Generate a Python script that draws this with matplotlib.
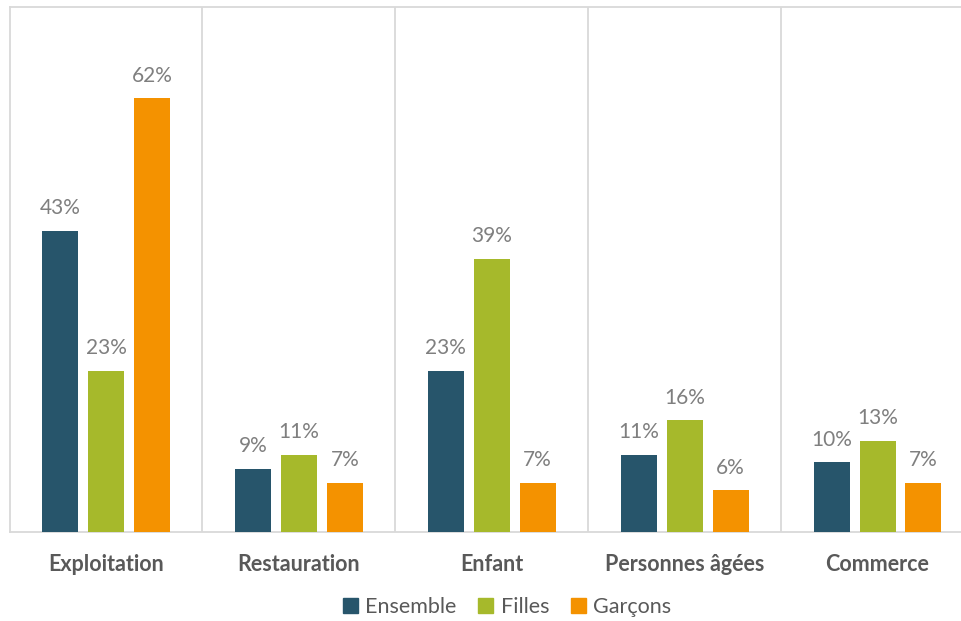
import numpy as np
import matplotlib.pyplot as plt
from matplotlib.patches import Patch

categories = ['Exploitation', 'Restauration', 'Enfant', 'Personnes âgées', 'Commerce']
series_names = ['Ensemble', 'Filles', 'Garçons']
ensemble = [43, 9, 23, 11, 10]
filles = [23, 11, 39, 16, 13]
garcons = [62, 7, 7, 6, 7]

colors = ['#27556b', '#a6b92b', '#f49200']
grid_color = '#d9d9d9'
text_color = '#595959'
label_color = '#7f7f7f'

plt.rcParams['font.family'] = ['Lato', 'DejaVu Sans']

fig = plt.figure(figsize=(9.61, 6.21), dpi=100)
ax = fig.add_axes([9.5 / 961, 1 - 532 / 621, (974 - 9.5) / 961, (532 - 7) / 621])

x = np.arange(len(categories))
width = 0.187
step = 0.238
values = [ensemble, filles, garcons]

for i, (vals, name, col) in enumerate(zip(values, series_names, colors)):
    bars = ax.bar(x + (i - 1) * step, vals, width, color=col, label=name, zorder=3)
    for b, v in zip(bars, vals):
        ax.annotate(f'{v}%', (b.get_x() + b.get_width() / 2, v),
                    xytext=(0, 9), textcoords='offset points',
                    ha='center', va='bottom', fontsize=15, color=label_color)

ax.set_xlim(-0.5, len(categories) - 0.5)
ax.set_ylim(0, 75)

for sep in np.arange(0.5, len(categories) - 0.5, 1):
    ax.axvline(sep, color=grid_color, lw=1.3, zorder=1)

for s in ax.spines.values():
    s.set_color(grid_color)
    s.set_linewidth(1.3)

ax.set_yticks([])
ax.set_xticks(x)
ax.set_xticklabels(categories, fontsize=15.5, fontweight='bold', color=text_color)
ax.tick_params(axis='x', length=0, pad=16)

handles = [Patch(color=c) for c in colors]
fig.legend(handles, series_names, loc='center', bbox_to_anchor=(507 / 961, 1 - 607 / 621),
           ncol=3, frameon=False, fontsize=15.5, handlelength=0.7, handleheight=0.7,
           handletextpad=0.35, columnspacing=1.0, labelcolor=text_color)

fig.savefig('out.png', dpi=100)
